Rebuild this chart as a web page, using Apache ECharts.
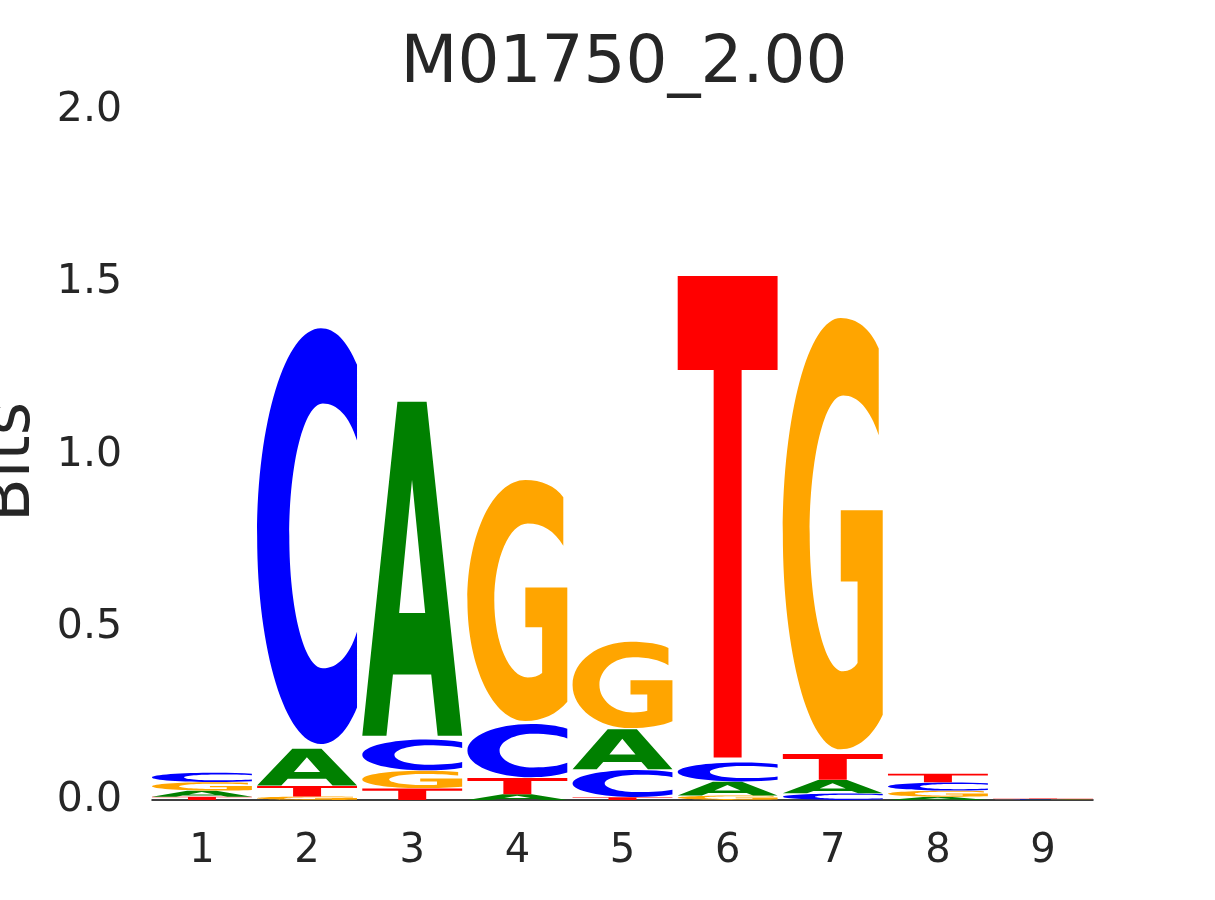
<!DOCTYPE html>
<html>
<head>
<meta charset="utf-8">
<script src="https://cdn.jsdelivr.net/npm/echarts@6/dist/echarts.min.js"></script>
<style>html,body{margin:0;padding:0;background:#fff;}#chart{width:1215px;height:900px;}</style>
</head>
<body>
<div id="chart"></div>
<script>
// ---- data (information content in bits per letter, per position) ----
const positions = [1, 2, 3, 4, 5, 6, 7, 8, 9];
const letters = ['A', 'C', 'G', 'T'];
const heightA = [0.0174, 0.109, 0.988, 0.0165, 0.118, 0.040, 0.039, 0.009, 0.001];
const heightC = [0.027, 1.230, 0.091, 0.157, 0.080, 0.056, 0.019, 0.024, 0.001];
const heightG = [0.025, 0.010, 0.051, 0.713, 0.255, 0.013, 1.276, 0.018, 0.001];
const heightT = [0.0096, 0.031, 0.034, 0.048, 0.008, 1.424, 0.076, 0.025, 0.001];
const yTicks = [0, 0.5, 1.0, 1.5, 2.0];
const titleText = 'M01750_2.00';
const yName = 'Bits';

const letterColors = { A: '#008000', C: '#0000ff', G: '#ffa500', T: '#ff0000' };
const glyphs = {
  A: 'M0,100 L35.2,0 L64.4,0 L100,100 L75.5,100 L69,81.6 L30.7,81.6 L24.2,100 Z M49.8,23.3 L36.9,63.2 L63,63.2 Z',
  C: 'M100,8.8 C90,3 78,0 63.8,0 C28.6,0 0,22.4 0,50 C0,77.6 28.6,100 63.8,100 C78,100 90,97 100,91.2 L100,73 C92,79 80,81.8 65.8,81.8 C47.2,81.8 32.2,67.6 32.2,50 C32.2,32.4 47.2,18.1 65.8,18.1 C80,18.1 92,21 100,27 Z',
  G: 'M96,7.1 C88,2.5 74,0 58,0 C26,0 0,22.4 0,50 C0,77.6 26,100 58,100 C75,100 90,97 100,92 L100,44.6 L58,44.6 L58,61.1 L74.8,61.1 L74.8,80 C71,81.3 66,81.9 60.4,81.9 C42,81.9 26.9,67.6 26.9,50 C26.9,32.4 42,18 60.4,18 C75,18 87,21 96,27.2 Z',
  T: 'M0,0 L100,0 L100,19.5 L64,19.5 L64,100 L36,100 L36,19.5 L0,19.5 Z'
};

// build stacked rectangles (smallest at bottom)
const heightsByLetter = { A: heightA, C: heightC, G: heightG, T: heightT };
const stackData = [];
positions.forEach(function (pos, i) {
  const items = letters.map(function (l, li) { return { li: li, h: heightsByLetter[l][i] }; });
  items.sort(function (a, b) { return a.h - b.h; });
  let base = 0;
  items.forEach(function (it) {
    stackData.push([pos, base, base + it.h, it.li]);
    base += it.h;
  });
});

const FONT = 'DejaVu Sans';
const TXT = '#262626';
const LETTER_WIDTH = 0.95;

function renderItem(params, api) {
  const pos = api.value(0);
  const y0 = api.value(1);
  const y1 = api.value(2);
  const letter = letters[api.value(3)];
  const pb = api.coord([pos, y0]);
  const pt = api.coord([pos, y1]);
  const w = api.size([LETTER_WIDTH, 0])[0];
  const h = pb[1] - pt[1];
  const pad = 0.01 * h;
  return {
    type: 'path',
    shape: {
      pathData: glyphs[letter],
      x: pb[0] - w / 2,
      y: pt[1] + pad,
      width: w,
      height: Math.max(h - 2 * pad, 0.3),
      layout: 'cover'
    },
    style: { fill: letterColors[letter] }
  };
}

const chart = echarts.init(document.getElementById('chart'), null, { renderer: 'canvas' });
chart.setOption({
  animation: false,
  backgroundColor: '#fff',
  title: {
    text: titleText,
    left: 619,
    textAlign: 'center',
    top: 27,
    textStyle: { fontFamily: FONT, fontSize: 66, fontWeight: 'normal', color: TXT }
  },
  grid: { left: 152, right: 122, top: 110, bottom: 100, containLabel: false, outerBoundsMode: 'none' },
  xAxis: {
    type: 'value',
    min: 0.525,
    max: 9.475,
    axisLine: { show: true, lineStyle: { color: '#000', width: 1.5 } },
    axisTick: { show: false },
    splitLine: { show: false },
    axisLabel: {
      customValues: positions,
      fontFamily: FONT, fontSize: 40, color: TXT, margin: 32
    }
  },
  yAxis: {
    type: 'value',
    min: 0,
    max: 2,
    interval: 0.5,
    name: yName,
    nameLocation: 'middle',
    nameGap: 108,
    nameRotate: 90,
    nameTextStyle: { fontFamily: FONT, fontSize: 64, color: TXT, padding: [0, 14, 0, 0] },
    axisLine: { show: false },
    axisTick: { show: false },
    splitLine: { show: false },
    axisLabel: {
      customValues: yTicks,
      formatter: function (v) { return v.toFixed(1); },
      fontFamily: FONT, fontSize: 41, color: TXT, margin: 30,
      padding: [7, 0, 0, 0]
    }
  },
  series: [{
    type: 'custom',
    renderItem: renderItem,
    data: stackData,
    clip: false,
    silent: true
  }]
});
</script>
</body>
</html>
